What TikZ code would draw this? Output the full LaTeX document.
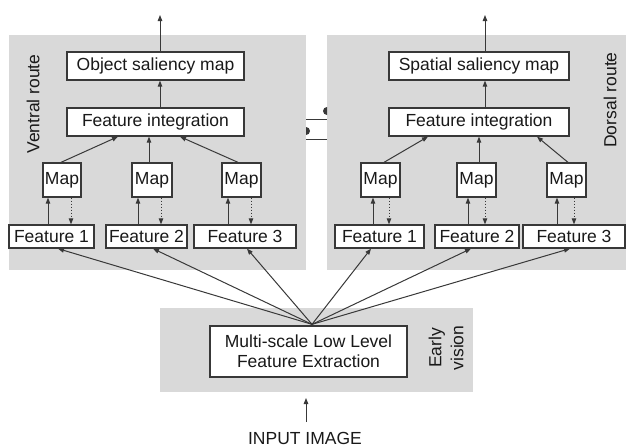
\documentclass[tikz,border=0pt]{standalone}
\usepackage{fontspec}
\setmainfont{Liberation Sans}
\usetikzlibrary{arrows.meta,calc}
\definecolor{panelgray}{HTML}{D9D9D9}
\definecolor{inkgray}{HTML}{383838}

\begin{document}
\begin{tikzpicture}[x=1pt,y=-1pt,
  font=\fontsize{17.5}{20}\selectfont,
  panel/.style={fill=panelgray, draw=none, inner sep=0pt, outer sep=0pt, anchor=north west},
  box/.style={draw=inkgray, line width=1.3pt, fill=white, inner sep=0pt, text=black!90, align=center},
  link/.style={draw=inkgray, line width=1pt, -{Triangle[length=6pt,width=4.5pt]}},
  dotlink/.style={link, dotted},
  routelabel/.style={rotate=90, text=black!90, inner sep=0pt, align=center}]
\useasboundingbox (0,0) rectangle (627,447);

% grey route panels
\node[panel, minimum width=297, minimum height=235] (vpanel) at (9,35) {};
\node[panel, minimum width=299, minimum height=235] (dpanel) at (327,35) {};
\node[panel, minimum width=313, minimum height=84] (evpanel) at (160,308) {};

% panel labels
\node[routelabel] (vlabel) at (33,104) {Ventral route};
\node[routelabel] (dlabel) at (610,100) {Dorsal route};
\node[routelabel, font=\fontsize{17.5}{22}\selectfont] (evlabel) at (446,348) {Early\\vision};

% ventral route
\node[box, minimum width=177, minimum height=28] (vosm) at (155.5,66) {Object saliency map};
\node[box, minimum width=177, minimum height=28] (vfi) at (155.5,122) {Feature integration};
\node[box, minimum width=38, minimum height=34] (vm1) at (62,180) {Map};
\node[box, minimum width=40, minimum height=34] (vm2) at (152,180) {Map};
\node[box, minimum width=39, minimum height=34] (vm3) at (241.5,180) {Map};
\node[box, minimum width=85, minimum height=23] (vf1) at (51.5,236.5) {Feature 1};
\node[box, minimum width=81, minimum height=23] (vf2) at (146.5,236.5) {Feature 2};
\node[box, minimum width=102, minimum height=23] (vf3) at (245,236.5) {Feature 3};

% dorsal route
\node[box, minimum width=180, minimum height=28] (dssm) at (479,66) {Spatial saliency map};
\node[box, minimum width=180, minimum height=28] (dfi) at (479,122) {Feature integration};
\node[box, minimum width=39, minimum height=34] (dm1) at (380.5,180) {Map};
\node[box, minimum width=39, minimum height=34] (dm2) at (476.5,180) {Map};
\node[box, minimum width=39, minimum height=34] (dm3) at (566.5,180) {Map};
\node[box, minimum width=89, minimum height=23] (df1) at (379.5,236.5) {Feature 1};
\node[box, minimum width=84, minimum height=23] (df2) at (477,236.5) {Feature 2};
\node[box, minimum width=102, minimum height=23] (df3) at (574,236.5) {Feature 3};

% early vision
\node[box, minimum width=197, minimum height=51] (ev) at (308.5,351.5) {Multi-scale Low Level\\Feature Extraction};
\node[inner sep=0pt, anchor=base, text=black!90] (input) at (305,444.5) {INPUT IMAGE};

% outputs of the two routes
\coordinate (vout) at (160,15);
\coordinate (dout) at (485,15);
\draw[link] ([xshift=4.5]vosm.north) -- (vout);
\draw[link] ([xshift=6]dssm.north) -- (dout);
\draw[link] ([xshift=4.5]vfi.north) -- ([xshift=4.5]vosm.south);
\draw[link] ([xshift=6]dfi.north) -- ([xshift=6]dssm.south);

% maps into feature integration
\draw[link] ([xshift=-1]vm1.north) -- ([xshift=-37.5]vfi.south);
\draw[link] ([xshift=-3]vm2.north) -- ([xshift=-6.5]vfi.south);
\draw[link] ([xshift=-3.5]vm3.north) -- ([xshift=24.5]vfi.south);
\draw[link] ([xshift=3.5]dm1.north) -- ([xshift=-51]dfi.south);
\draw[link] ([xshift=2.5]dm2.north) -- ([xshift=0]dfi.south);
\draw[link] ([xshift=1.5]dm3.north) -- ([xshift=58]dfi.south);

% feature <-> map loops
\foreach \m/\f/\s/\d in {vm1/vf1/-14/9, vm2/vf2/-14/9, vm3/vf3/-13.5/9.5,
                         dm1/df1/-7.5/8.5, dm2/df2/-8.5/8.5, dm3/df3/-9.5/7.5} {
  \draw[link] ([xshift=\s]\m.south |- \f.north) -- ([xshift=\s]\m.south);
  \draw[dotlink] ([xshift=\d]\m.south) -- ([xshift=\d]\m.south |- \f.north);
}

% low level features fan out to both routes
\coordinate (conv) at ([xshift=3.5,yshift=1]ev.north);
\foreach \f/\o in {vf1/6.5, vf2/6.5, vf3/2, df1/-8.5, df2/-6, df3/-4}
  \draw[link] (conv) -- ([xshift=\o]\f.south);

% input
\coordinate (intip) at (306,398);
\draw[link] ([xshift=1,yshift=10]input.north) -- (intip);

% mutual inhibition between the routes
\coordinate (inhAs) at (306,119);
\coordinate (inhAe) at (327,119);
\coordinate (inhBs) at (327,139);
\coordinate (inhBe) at (306,139);
\draw[inkgray, line width=1pt] (inhAs) -- (inhAe);
\draw[inkgray, line width=1pt] (inhBs) -- (inhBe);
\fill[inkgray] ([yshift=4]inhAe) arc[start angle=90, end angle=270, radius=4] -- cycle;
\fill[inkgray] ([yshift=4]inhBe) arc[start angle=90, end angle=-90, radius=4] -- cycle;
\end{tikzpicture}
\end{document}
